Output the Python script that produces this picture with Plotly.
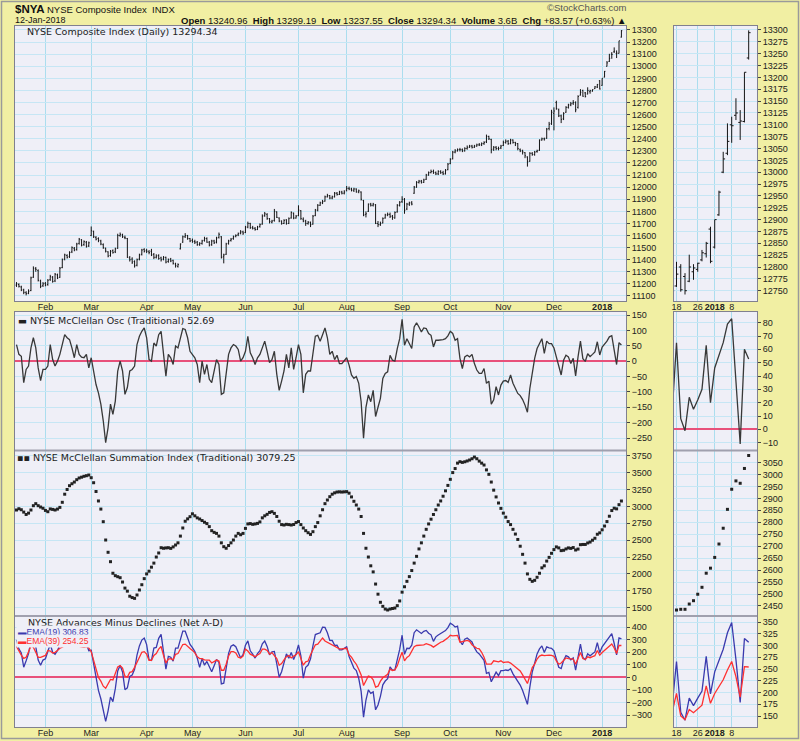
import plotly.graph_objects as go
import pandas as pd

W, H = 800, 741

HOLIDAYS = ["2017-01-16", "2017-02-20", "2017-04-14", "2017-05-29", "2017-07-04",
            "2017-09-04", "2017-11-23", "2017-12-25", "2018-01-01"]
dates = [d for d in pd.bdate_range("2017-01-13", "2018-01-12")
         if d.strftime("%Y-%m-%d") not in HOLIDAYS]

# ---------------- NYSE Composite daily OHLC ----------------
price_open = [
    11190, 11195, 11175, 11150, 11128, 11122, 11145, 11255, 11325, 11310, 11225, 11185,
    11205, 11195, 11235, 11255, 11225, 11275, 11255, 11335, 11405, 11435, 11425, 11465, 11495, 11485, 11535, 11565, 11525, 11545, 11515,
    11600, 11635, 11585, 11575, 11555, 11525, 11495, 11465, 11435, 11475, 11465, 11495, 11600, 11605, 11585, 11575, 11415, 11405, 11385, 11355, 11405, 11445, 11485,
    11475, 11465, 11470, 11445, 11420, 11435, 11415, 11405, 11420, 11385, 11405, 11395, 11365, 11345, 11490, 11545, 11590, 11600, 11575,
    11560, 11550, 11545, 11525, 11535, 11560, 11575, 11545, 11525, 11555, 11545, 11585, 11590, 11425, 11445, 11535, 11560, 11575, 11595, 11605, 11620, 11630,
    11625, 11670, 11700, 11665, 11660, 11650, 11675, 11695, 11765, 11775, 11740, 11710, 11725, 11795, 11745, 11720, 11700, 11730, 11700, 11745, 11785, 11745,
    11765, 11805, 11735, 11720, 11700, 11710, 11695, 11765, 11810, 11850, 11870, 11885, 11920, 11930, 11910, 11920, 11950, 11940, 11960, 11950,
    11975, 11990, 11985, 11975, 11985, 11960, 11960, 11890, 11775, 11800, 11860, 11850, 11855, 11700, 11690, 11705, 11745, 11770, 11775, 11760, 11745, 11795, 11850,
    11880, 11900, 11820, 11860, 11870, 11950, 12000, 12040, 12050, 12040, 12065, 12100, 12120, 12130, 12120, 12110, 12130, 12120, 12110, 12145,
    12195, 12235, 12290, 12300, 12310, 12310, 12300, 12320, 12330, 12340, 12330, 12340, 12350, 12350, 12360, 12375, 12420, 12395, 12315, 12330, 12320, 12325,
    12345, 12370, 12380, 12360, 12390, 12370, 12360, 12310, 12300, 12285, 12250, 12215, 12280, 12270, 12295, 12305, 12390, 12400, 12405, 12485, 12525,
    12610, 12700, 12640, 12590, 12565, 12620, 12660, 12680, 12695, 12700, 12660,
    12760, 12800, 12780, 12770, 12790, 12795, 12815, 12828, 12880, 12842, 12910, 13000, 13040, 13100, 13120, 13105, 13107, 13240.96,
]
price_high = [
    11215, 11205, 11185, 11160, 11140, 11155, 11260, 11345, 11340, 11320, 11235, 11215,
    11215, 11240, 11275, 11265, 11290, 11285, 11340, 11410, 11450, 11445, 11470, 11510, 11505, 11540, 11580, 11570, 11560, 11555, 11550,
    11675, 11640, 11595, 11585, 11565, 11535, 11500, 11470, 11480, 11485, 11500, 11615, 11625, 11615, 11600, 11580, 11430, 11420, 11395, 11410, 11450, 11490, 11495,
    11490, 11480, 11490, 11455, 11445, 11445, 11425, 11430, 11425, 11410, 11415, 11400, 11375, 11370, 11535, 11600, 11620, 11605, 11580,
    11575, 11565, 11555, 11545, 11565, 11590, 11585, 11555, 11565, 11565, 11590, 11625, 11595, 11450, 11540, 11565, 11580, 11600, 11610, 11625, 11645, 11640,
    11680, 11715, 11705, 11680, 11670, 11680, 11700, 11775, 11795, 11785, 11745, 11730, 11820, 11800, 11750, 11725, 11735, 11735, 11750, 11800, 11790, 11770,
    11850, 11810, 11750, 11730, 11720, 11715, 11770, 11820, 11860, 11880, 11895, 11930, 11945, 11935, 11930, 11960, 11960, 11970, 11970, 11975,
    12010, 12005, 11995, 11995, 11990, 11980, 11965, 11895, 11800, 11865, 11870, 11870, 11860, 11720, 11715, 11750, 11780, 11790, 11790, 11770, 11800, 11860, 11885,
    11925, 11910, 11870, 11880, 11885, 12010, 12050, 12060, 12060, 12070, 12110, 12130, 12145, 12145, 12130, 12140, 12140, 12135, 12150, 12200,
    12240, 12300, 12315, 12320, 12325, 12320, 12330, 12345, 12350, 12350, 12350, 12360, 12365, 12370, 12380, 12435, 12425, 12400, 12340, 12340, 12335, 12350,
    12385, 12395, 12390, 12400, 12395, 12375, 12365, 12320, 12310, 12290, 12255, 12290, 12290, 12300, 12310, 12395, 12410, 12410, 12490, 12540, 12640,
    12660, 12715, 12650, 12600, 12620, 12670, 12690, 12705, 12720, 12710, 12760,
    12811, 12806, 12787, 12826, 12806, 12809, 12836, 12853, 12885, 12900, 12961, 13043, 13103, 13117, 13156, 13131, 13210.77, 13299.19,
]
price_low = [
    11175, 11170, 11140, 11115, 11105, 11115, 11140, 11250, 11300, 11220, 11165, 11175,
    11180, 11185, 11225, 11210, 11215, 11240, 11250, 11330, 11395, 11410, 11415, 11455, 11470, 11475, 11525, 11510, 11515, 11500, 11505,
    11595, 11580, 11560, 11545, 11520, 11490, 11460, 11420, 11425, 11450, 11455, 11490, 11590, 11580, 11570, 11415, 11385, 11365, 11335, 11345, 11395, 11435, 11460,
    11455, 11445, 11430, 11405, 11410, 11400, 11385, 11395, 11370, 11375, 11380, 11360, 11335, 11335, 11485, 11540, 11580, 11565, 11545,
    11540, 11530, 11515, 11515, 11525, 11550, 11540, 11510, 11515, 11530, 11535, 11575, 11410, 11370, 11440, 11525, 11550, 11565, 11585, 11595, 11610, 11605,
    11620, 11660, 11655, 11650, 11640, 11645, 11665, 11690, 11755, 11730, 11700, 11700, 11715, 11745, 11710, 11690, 11695, 11690, 11695, 11740, 11735, 11740,
    11760, 11730, 11710, 11680, 11690, 11670, 11690, 11760, 11800, 11845, 11860, 11880, 11915, 11900, 11900, 11915, 11930, 11935, 11940, 11940,
    11965, 11975, 11965, 11960, 11955, 11950, 11890, 11760, 11750, 11795, 11840, 11840, 11695, 11670, 11680, 11700, 11740, 11760, 11745, 11730, 11740, 11790, 11840,
    11870, 11780, 11810, 11845, 11850, 11945, 11995, 12030, 12030, 12035, 12060, 12095, 12115, 12110, 12100, 12100, 12110, 12100, 12105, 12140,
    12190, 12230, 12280, 12295, 12295, 12290, 12295, 12310, 12325, 12320, 12325, 12335, 12340, 12340, 12350, 12365, 12390, 12280, 12300, 12305, 12305, 12315,
    12340, 12360, 12350, 12355, 12360, 12340, 12305, 12290, 12270, 12240, 12170, 12210, 12260, 12260, 12285, 12300, 12385, 12385, 12400, 12470, 12515,
    12470, 12640, 12580, 12530, 12555, 12615, 12650, 12670, 12680, 12620, 12650,
    12758, 12748, 12742, 12768, 12773, 12790, 12812, 12820, 12808, 12839, 12908, 12998, 13036, 13062, 13110, 13068, 13105, 13237.55,
]
price_close = [
    11200, 11180, 11150, 11130, 11120, 11140, 11250, 11330, 11320, 11230, 11180, 11200,
    11190, 11230, 11260, 11220, 11280, 11250, 11330, 11400, 11440, 11420, 11460, 11500, 11480, 11530, 11570, 11520, 11550, 11510, 11540,
    11640, 11590, 11570, 11560, 11530, 11500, 11470, 11430, 11470, 11460, 11490, 11600, 11610, 11590, 11580, 11420, 11400, 11380, 11350, 11400, 11440, 11480, 11470,
    11470, 11460, 11440, 11420, 11430, 11410, 11400, 11420, 11380, 11400, 11390, 11370, 11350, 11360, 11530, 11590, 11600, 11575, 11555,
    11550, 11545, 11525, 11535, 11555, 11575, 11545, 11520, 11555, 11540, 11580, 11610, 11420, 11440, 11530, 11555, 11570, 11590, 11600, 11615, 11630, 11620,
    11670, 11700, 11665, 11660, 11650, 11670, 11690, 11760, 11780, 11740, 11715, 11720, 11800, 11750, 11720, 11700, 11725, 11700, 11740, 11790, 11745, 11760,
    11810, 11740, 11720, 11700, 11710, 11690, 11760, 11810, 11850, 11870, 11880, 11920, 11930, 11910, 11920, 11950, 11940, 11960, 11950, 11960,
    11990, 11985, 11975, 11985, 11960, 11970, 11900, 11770, 11780, 11860, 11850, 11860, 11700, 11690, 11700, 11740, 11770, 11775, 11760, 11750, 11790, 11850, 11875,
    11900, 11810, 11860, 11870, 11860, 12000, 12040, 12050, 12040, 12060, 12100, 12120, 12130, 12120, 12110, 12130, 12120, 12110, 12140, 12190,
    12230, 12290, 12300, 12310, 12310, 12300, 12320, 12330, 12340, 12330, 12340, 12350, 12350, 12360, 12370, 12420, 12400, 12310, 12330, 12320, 12320, 12340,
    12370, 12380, 12360, 12390, 12370, 12360, 12320, 12300, 12290, 12260, 12210, 12280, 12270, 12290, 12300, 12390, 12400, 12400, 12480, 12520, 12620,
    12630, 12650, 12590, 12560, 12610, 12660, 12680, 12690, 12700, 12640, 12750,
    12785, 12752, 12750, 12800, 12798, 12808, 12830, 12850, 12812, 12900, 12958, 13028, 13065, 13098, 13125, 13108, 13210.77, 13294.34,
]

# ---------------- McClellan Oscillator ----------------
mcclellan_osc = [
    54, 22, 16, -70, -27, -16, 43, 76, 43, -22,
    -63, -27, -27, -16, 54, 5, -16, 0, 22, 59,
    86, 76, 70, 43, 11, 54, 22, 13, 11, 22,
    -22, 11, -32, -76, -103, -140, -194, -265, -216, -140,
    -173, -130, -32, 0, -32, -108, -86, -32, -27, -16,
    54, 81, 97, 108, 76, 5, 0, 59, 49, 86,
    97, 22, -49, 22, 11, -11, 49, 43, 76, 106,
    103, 76, 32, 22, 11, -11, -70, 0, -43, -11,
    -59, -70, -32, 5, -11, -108, -103, -43, 22, 43,
    54, 49, 38, 0, 11, 32, 81, 27, 11, -11,
    11, 22, 43, 65, 32, -5, 5, 32, -43, -95,
    -65, -32, 22, -22, 43, -27, 11, 54, 22, -103,
    -43, -32, -32, 32, 81, 84, 65, 86, 108, 76,
    22, 32, 5, 19,
    -8, -8, 0, 11, -13, -45, -56, -50, -72, -132,
    -251, -150, -110, -132, -95, -180, -150, -121, -56, -40,
    -35, 19, 3, 0, 41, 73, 136, 52, 73, 57,
    41, 111, 125, 111, 95, 108, 106, 90, 84, 46,
    68, 68, 68, 70, 73, 82, 97, 90, 68, 73,
    9, -24, 14, 19, 14, 22, -8, -29, -40, -40,
    -24, -72, -65, -140, -126, -83, -110, -78, -65, -63,
    -69, -45, -72, -89, -105, -112, -125, -143, -166, -89,
    -35, 9, 41, 57, 73, 25, 65, 57, 57, 43,
    14, -24, -45, 3, 19, 14, -8, 9, -48, 14,
    65, 8, -1, 24, 15, 22, 30, 63, 20, 46, 56, 65, 79, 83, 36, -11, 60, 52.69,
]

# ---------------- McClellan Summation Index ----------------
summation = [
    2946, 2965, 2950, 2915, 2880, 2900, 2946, 3010, 3040, 3010,
    2990, 2972, 2940, 2921, 2962, 2955, 2946, 2960, 2985, 3060,
    3180, 3250, 3306, 3335, 3360, 3395, 3420, 3432, 3445, 3454,
    3464, 3424, 3350, 3220, 3080, 2960, 2773, 2502, 2320, 2181,
    2010, 1974, 1959, 1944, 1880, 1790, 1745, 1670, 1650, 1638,
    1688, 1762, 1840, 1930, 2000, 2040, 2100, 2160, 2250, 2310,
    2388, 2380, 2385, 2388, 2378, 2400, 2428, 2460, 2560, 2680,
    2780, 2815, 2847, 2890, 2860, 2830, 2813, 2790, 2765, 2745,
    2700, 2640, 2615, 2600, 2560, 2460, 2403, 2380, 2420, 2460,
    2502, 2560, 2600, 2580, 2600, 2674, 2740, 2745, 2734, 2740,
    2748, 2770, 2830, 2860, 2882, 2910, 2921, 2896, 2850, 2780,
    2730, 2724, 2734, 2730, 2724, 2732, 2760, 2775, 2730, 2680,
    2640, 2610, 2585, 2625, 2700, 2760, 2860, 2950, 3040, 3094,
    3143, 3180, 3200, 3212,
    3215, 3212, 3215, 3218, 3195, 3140, 3075, 3020, 2960, 2850,
    2600, 2380, 2250, 2120, 2030, 1850, 1700, 1580, 1520, 1480,
    1466, 1480, 1488, 1495, 1530, 1600, 1730, 1810, 1890, 1960,
    2050, 2160, 2260, 2370, 2460, 2560, 2660, 2740, 2810, 2880,
    2950, 3020, 3080, 3150, 3230, 3310, 3400, 3500, 3560, 3640,
    3661, 3651, 3660, 3672, 3686, 3705, 3730, 3705, 3670, 3640,
    3612, 3540, 3474, 3360, 3240, 3140, 3050, 2970, 2900, 2840,
    2775, 2730, 2660, 2590, 2510, 2410, 2290, 2160, 2000, 1920,
    1890, 1905, 1950, 2010, 2090, 2120, 2190, 2245, 2305, 2360,
    2400, 2385, 2345, 2350, 2370, 2385, 2378, 2390, 2354, 2368,
    2433, 2436, 2436, 2458, 2472, 2499, 2528, 2587, 2608, 2653, 2709, 2775, 2854, 2938, 2973, 2963, 3025, 3079.25,
]

# ---------------- Net A-D EMAs ----------------
ema19 = [
    300, 227, 194, 81, 133, 189, 293, 316, 243, 138,
    97, 138, 148, 199, 264, 200, 184, 215, 254, 299,
    341, 338, 335, 305, 266, 304, 270, 258, 251, 268,
    213, 216, 98, -6, -103, -170, -264, -351, -266, -156,
    -193, -90, 52, 95, 43, -98, -83, 8, 19, 64,
    178, 251, 297, 313, 261, 140, 135, 234, 239, 311,
    343, 197, 66, 167, 161, 129, 233, 233, 306, 368,
    368, 321, 262, 237, 206, 154, 80, 150, 97, 127,
    79, 45, 93, 143, 119, -51, -46, 62, 192, 248,
    259, 244, 198, 155, 181, 257, 291, 212, 186, 154,
    189, 212, 268, 290, 247, 180, 203, 207, 107, 2,
    45, 108, 187, 153, 198, 143, 191, 259, 172, -6,
    81, 98, 148, 251, 341, 349, 355, 400, 398, 356,
    295, 294, 255, 257,
    219, 219, 230, 243, 167, 117, 74, 55, -7, -112,
    -316, -180, -99, -127, -115, -258, -220, -151, -59, -29,
    -11, 84, 58, 60, 133, 223, 336, 184, 232, 230,
    256, 356, 379, 365, 350, 367, 374, 352, 339, 287,
    323, 338, 348, 357, 373, 397, 432, 420, 401, 408,
    290, 260, 304, 314, 301, 282, 237, 203, 187, 160,
    136, 33, 40, -35, 6, 42, 14, 54, 54, 59,
    55, 69, 28, -4, -35, -61, -105, -163, -215, -78,
    43, 114, 187, 227, 251, 198, 243, 235, 232, 211,
    146, 81, 70, 135, 174, 164, 140, 155, 57, 173,
    266, 158, 141, 188, 172, 188, 203, 277, 197, 244, 270, 292, 327, 349, 270, 179, 315, 306.83,
]
ema39 = [
    246, 205, 178, 151, 160, 205, 250, 240, 200, 160,
    160, 165, 175, 215, 210, 195, 200, 215, 232, 240,
    255, 262, 265, 262, 255, 250, 248, 245, 240, 246,
    235, 205, 130, 70, 0, -30, -70, -86, -50, -16,
    -20, 40, 84, 95, 75, 10, 3, 40, 46, 80,
    124, 170, 200, 205, 185, 135, 135, 175, 190, 225,
    246, 175, 115, 145, 150, 140, 184, 190, 230, 262,
    265, 245, 230, 215, 195, 165, 150, 150, 140, 138,
    138, 115, 125, 138, 130, 57, 57, 105, 170, 205,
    205, 195, 160, 155, 170, 225, 210, 185, 175, 165,
    178, 190, 225, 225, 215, 185, 198, 175, 150, 97,
    110, 140, 165, 175, 155, 170, 180, 205, 150, 97,
    124, 130, 180, 219, 260, 265, 290, 314, 290, 280,
    273, 262, 250, 238,
    227, 227, 230, 232, 180, 162, 130, 105, 65, 20,
    -65, -30, 11, 5, -20, -78, -70, -30, -3, 11,
    24, 65, 55, 60, 92, 150, 200, 132, 159, 173,
    215, 245, 254, 254, 255, 259, 268, 262, 255, 241,
    255, 270, 280, 287, 300, 315, 335, 330, 333, 335,
    281, 284, 290, 295, 287, 260, 245, 232, 227, 200,
    160, 105, 105, 105, 132, 125, 124, 132, 119, 122,
    124, 114, 100, 85, 70, 51, 20, -20, -49, 11,
    78, 105, 146, 170, 178, 173, 178, 178, 175, 168,
    132, 105, 115, 132, 155, 150, 148, 146, 105, 159,
    198, 150, 142, 164, 157, 166, 173, 214, 177, 198, 214, 227, 248, 266, 234, 190, 255, 254.25,
]

n = len(dates)
for name, arr in [("open", price_open), ("high", price_high), ("low", price_low), ("close", price_close),
                  ("osc", mcclellan_osc), ("sum", summation), ("ema19", ema19), ("ema39", ema39)]:
    assert len(arr) == n, (name, len(arr), n)

idx = list(range(n))
date_str = [d.strftime("%Y-%m-%d") for d in dates]
month_ticks = [i for i in range(1, n) if dates[i].month != dates[i - 1].month]
month_text = [("<b>%d</b>" % dates[i].year) if dates[i].month == 1 else dates[i].strftime("%b")
              for i in month_ticks]
mini_tick_days = ["2017-12-18", "2017-12-26", "2018-01-02", "2018-01-08"]
mini_tick_text = ["18", "26", "<b>2018</b>", "8"]
mini_ticks = [date_str.index(s) for s in mini_tick_days]

# ---------------- styling ----------------
YEL = "#F1EFA3"
BG = "#EFEFF7"
VGRID = "#ABDDEE"
HGRID = "#C6E6F4"
BORDER = "#80808F"
ZERO = "#E8507A"
SANS = "Liberation Sans"
DV = "DejaVu Sans"

COLS = {1: (15, 626), 2: (674, 757)}
ROWS = {1: (26, 301), 2: (312, 450), 3: (451, 616), 4: (616, 727)}
XR = {1: [-0.62, 252.9], 2: [233.41, 252.96]}
YR = {(1, 1): [11058.6, 13333], (1, 2): [12728.3, 13308.4],
      (2, 1): [-289, 159.8], (2, 2): [-15.5, 88],
      (3, 1): [1377, 3819.6], (3, 2): [2408, 3098],
      (4, 1): [-395, 489], (4, 2): [126.6, 362.8]}
YT = {(1, 1): 100, (1, 2): 25, (2, 1): 50, (2, 2): 10,
      (3, 1): 250, (3, 2): 50, (4, 1): 100, (4, 2): 25}

fig = go.Figure()
layout = dict(width=W, height=H, margin=dict(l=0, r=0, t=0, b=0),
              paper_bgcolor=YEL, plot_bgcolor=BG, showlegend=False)

def suffix(k):
    return "" if k == 1 else str(k)

for r in (1, 2, 3, 4):
    for c in (1, 2):
        k = (r - 1) * 2 + c
        s = suffix(k)
        x0, x1 = COLS[c]
        y0, y1 = ROWS[r]
        layout["xaxis" + s] = dict(
            domain=[x0 / W, x1 / W], anchor="y" + s, range=XR[c],
            tickmode="array",
            tickvals=month_ticks if c == 1 else mini_ticks,
            ticktext=month_text if c == 1 else mini_tick_text,
            showticklabels=(r in (1, 4)), ticks="", tickangle=0,
            ticklabelstandoff=-3,
            showgrid=True, gridcolor=VGRID, gridwidth=1, zeroline=False,
            showline=True, linecolor=BORDER, linewidth=1, mirror=True,
            tickfont=dict(family=SANS, size=9, color="#222"),
            rangeslider=dict(visible=False), fixedrange=True, automargin=False)
        layout["yaxis" + s] = dict(
            domain=[1 - y1 / H, 1 - y0 / H], anchor="x" + s, side="right",
            range=YR[(r, c)], tickmode="linear", tick0=0, dtick=YT[(r, c)],
            tickformat="d", showgrid=True, gridcolor=HGRID, gridwidth=1,
            zeroline=(r in (2, 4)), zerolinecolor=ZERO, zerolinewidth=1.6,
            showline=True, linecolor=BORDER, linewidth=1, mirror=True,
            ticks="outside", ticklen=3, tickcolor="#444",
            tickfont=dict(family=SANS, size=9, color="#222"), fixedrange=True,
            automargin=False)

for c in (1, 2):
    k1, k2, k3, k4 = c, 2 + c, 4 + c, 6 + c
    fig.add_trace(go.Ohlc(
        x=idx, open=price_open, high=price_high, low=price_low, close=price_close,
        increasing=dict(line=dict(color="#151515", width=1)),
        decreasing=dict(line=dict(color="#151515", width=1)),
        tickwidth=0.35 if c == 1 else 0.45,
        xaxis="x" + suffix(k1), yaxis="y" + suffix(k1), hoverinfo="skip"))
    fig.add_trace(go.Scatter(
        x=idx, y=mcclellan_osc, mode="lines", line=dict(color="#383838", width=1.3),
        xaxis="x" + suffix(k2), yaxis="y" + suffix(k2), hoverinfo="skip"))
    fig.add_trace(go.Scatter(
        x=idx, y=summation, mode="markers",
        marker=dict(symbol="square", size=3, color="#222", line=dict(width=0)),
        xaxis="x" + suffix(k3), yaxis="y" + suffix(k3), hoverinfo="skip"))
    fig.add_trace(go.Scatter(
        x=idx, y=ema19, mode="lines", line=dict(color="#3A3AAE", width=1.3),
        xaxis="x" + suffix(k4), yaxis="y" + suffix(k4), hoverinfo="skip"))
    fig.add_trace(go.Scatter(
        x=idx, y=ema39, mode="lines", line=dict(color="#FF3030", width=1.3),
        xaxis="x" + suffix(k4), yaxis="y" + suffix(k4), hoverinfo="skip"))

def ann(text, x, y, size, family, color="#111", xanchor="left", bg=None):
    d = dict(text=text, x=x / W, y=1 - y / H, xref="paper", yref="paper",
             showarrow=False, xanchor=xanchor, yanchor="middle",
             font=dict(family=family, size=size, color=color))
    if bg:
        d["bgcolor"] = bg
        d["borderpad"] = 1
    return d

annotations = [
    ann("<b>$NYA</b>", 13, 8.5, 11.5, SANS),
    ann("NYSE Composite Index  INDX", 45, 9, 9.5, SANS),
    ann("12-Jan-2018", 13, 20, 9, SANS),
    ann("<b>Open</b> 13240.96  <b>High</b> 13299.19  <b>Low</b> 13237.55  <b>Close</b> 13294.34  "
        "<b>Volume</b> 3.6B  <b>Chg</b> +83.57 (+0.63%) \u25b2", 628, 20, 9.5, SANS, xanchor="right"),
    ann("\u00a9StockCharts.com", 628, 8, 9.5, SANS, color="#555", xanchor="right"),
    ann("NYSE Composite Index (Daily) 13294.34", 25, 31.5, 9.5, DV, color="#222"),
    ann("\u25ac NYSE McClellan Osc (Traditional) 52.69", 16, 320, 9.5, DV, color="#222"),
    ann("\u25aa\u25aa NYSE McClellan Summation Index (Traditional) 3079.25", 15, 458, 9.5, DV, color="#222"),
    ann("NYSE Advances Minus Declines (Net A-D)", 26, 622, 9.5, DV, color="#222"),
    ann("\u25acEMA(19) 306.83", 16, 631.5, 8.5, SANS, color="#3A3AAE", bg=BG),
    ann("\u25acEMA(39) 254.25", 16, 640.5, 8.5, SANS, color="#FF3030", bg=BG),
]
layout["annotations"] = annotations

shapes = []
for (x0, x1) in COLS.values():
    for yy in (450.5, 616):
        shapes.append(dict(type="line", xref="paper", yref="paper",
                           x0=x0 / W, x1=x1 / W, y0=1 - yy / H, y1=1 - yy / H,
                           line=dict(color="#A0A0AE", width=2)))
shapes.append(dict(type="rect", xref="paper", yref="paper",
                   x0=1.5 / W, x1=798.5 / W, y0=1 - 738.5 / H, y1=1 - 1.5 / H,
                   line=dict(color="#9A9A9A", width=1.5)))
layout["shapes"] = shapes

fig.update_layout(**layout)
fig.write_html(
    "out.html",
    config={"displayModeBar": False, "responsive": False},
    post_script="document.documentElement.style.margin='0';document.body.style.margin='0';"
                "document.body.style.padding='0';document.body.style.overflow='hidden';",
)
